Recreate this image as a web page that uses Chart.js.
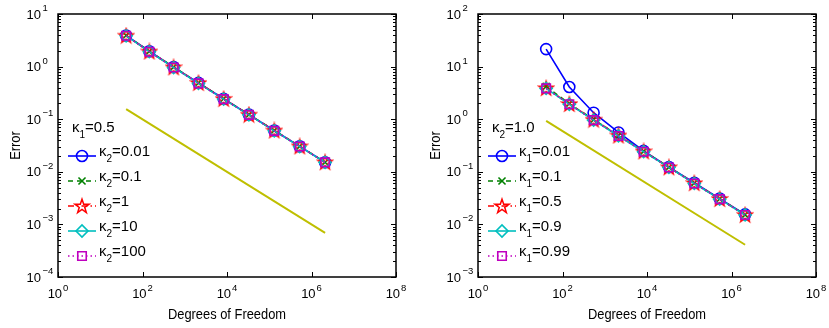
<!DOCTYPE html>
<html>
<head>
<meta charset="utf-8">
<script src="https://cdn.jsdelivr.net/npm/chart.js@4"></script>
<style>
  body { margin: 0; background: #fff; }
  .panel { position: absolute; top: 0; height: 328px; }
</style>
</head>
<body>
<div class="panel" style="left:0;width:414px"><canvas id="leftChart"></canvas></div>
<div class="panel" style="left:414px;width:415px"><canvas id="rightChart"></canvas></div>
<script>
// degrees of freedom (shared by every series)
const dof = [41, 145, 545, 2113, 8321, 33025, 131585, 525313, 2099201];

// left panel: kappa_1 = 0.5, kappa_2 varies
const leftK2_001 = [3.90, 1.96, 0.98, 0.49, 0.245, 0.122, 0.061, 0.0305, 0.0152];
const leftK2_01  = [3.90, 1.95, 0.98, 0.49, 0.245, 0.122, 0.061, 0.0305, 0.0152];
const leftK2_1   = [3.88, 1.94, 0.97, 0.49, 0.244, 0.122, 0.061, 0.0305, 0.0152];
const leftK2_10  = [3.85, 1.92, 0.96, 0.48, 0.241, 0.121, 0.060, 0.0302, 0.0151];
const leftK2_100 = [3.85, 1.92, 0.96, 0.48, 0.241, 0.121, 0.060, 0.0302, 0.0151];
const leftRef = [0.156, 0.00069];   // reference slope line at first / last dof

// right panel: kappa_2 = 1.0, kappa_1 varies
const rightK1_001 = [21.5, 4.1, 1.33, 0.56, 0.25, 0.123, 0.062, 0.031, 0.0155];
const rightK1_01  = [4.2, 1.97, 0.98, 0.49, 0.245, 0.122, 0.061, 0.0305, 0.0152];
const rightK1_05  = [3.9, 1.95, 0.98, 0.49, 0.245, 0.122, 0.061, 0.0305, 0.0152];
const rightK1_09  = [3.85, 1.92, 0.96, 0.48, 0.241, 0.121, 0.060, 0.0302, 0.0151];
const rightK1_099 = [3.85, 1.92, 0.96, 0.48, 0.241, 0.121, 0.060, 0.0302, 0.0151];
const rightRef = [0.93, 0.0041];

// legend text
const leftLegendValues = ['0.01', '0.1', '1', '10', '100'];
const rightLegendValues = ['0.01', '0.1', '0.5', '0.9', '0.99'];

// axis ticks (exponents of 10)
const xTickExp = [0, 2, 4, 6, 8];
const leftYTickExp = [-4, -3, -2, -1, 0, 1];
const rightYTickExp = [-3, -2, -1, 0, 1, 2];

const FONT = '"Liberation Sans", Arial, Helvetica, sans-serif';

// MATLAB-like pentagram marker
function pentagram(color) {
  const c = document.createElement('canvas');
  c.width = 18; c.height = 18;
  const g = c.getContext('2d');
  g.strokeStyle = color;
  g.lineWidth = 1.5;
  g.beginPath();
  for (let i = 0; i < 10; i++) {
    const r = i % 2 ? 2.9 : 7.4;
    const t = -Math.PI / 2 + i * Math.PI / 5;
    const x = 9 + r * Math.cos(t), y = 9.6 + r * Math.sin(t);
    if (i) g.lineTo(x, y); else g.moveTo(x, y);
  }
  g.closePath();
  g.stroke();
  return c;
}

// series styles
const styles = [
  { color: '#0000ff', dash: [], point: 'circle', radius: 5.5 },
  { color: '#008000', dash: [5, 4], point: 'crossRot', radius: 5 },
  { color: '#ff0000', dash: [6, 3, 1.5, 3], point: pentagram('#ff0000'), radius: 7 },
  { color: '#00bfbf', dash: [], point: 'rectRot', radius: 6 },
  { color: '#bf00bf', dash: [1.5, 3], point: 'rect', radius: 6 }
];

function makeDatasets(series, ref) {
  const sets = series.map((vals, i) => ({
    data: vals.map((v, j) => ({ x: dof[j], y: v })),
    borderColor: styles[i].color,
    borderWidth: 1.6,
    borderDash: styles[i].dash,
    pointStyle: styles[i].point,
    pointRadius: styles[i].radius,
    pointBorderColor: styles[i].color,
    pointBackgroundColor: 'rgba(0,0,0,0)',
    pointBorderWidth: 1.6,
    order: 5 - i
  }));
  sets.push({
    data: [{ x: dof[0], y: ref[0] }, { x: dof[dof.length - 1], y: ref[1] }],
    borderColor: '#bfbf00',
    borderWidth: 2,
    pointRadius: 0,
    order: 6
  });
  return sets;
}

function drawSub(ctx, x, y, base, sub, rest) {
  ctx.textAlign = 'left';
  ctx.textBaseline = 'alphabetic';
  ctx.font = '15px ' + FONT;
  ctx.fillText(base, x, y);
  x += ctx.measureText(base).width;
  ctx.font = '10px ' + FONT;
  ctx.fillText(sub, x, y + 5.5);
  x += ctx.measureText(sub).width;
  ctx.font = '15px ' + FONT;
  ctx.fillText(rest, x, y);
}

function panelPlugin(cfg) {
  return {
    id: 'panelDecor',
    afterDraw(chart) {
      const ctx = chart.ctx, a = chart.chartArea;
      const xs = chart.scales.x, ys = chart.scales.y;
      ctx.save();
      ctx.strokeStyle = '#000';
      ctx.fillStyle = '#000';

      // ticks (inward)
      ctx.lineWidth = 1;
      ctx.beginPath();
      xTickExp.forEach(e => {
        const px = Math.round(xs.getPixelForValue(Math.pow(10, e))) + 0.5;
        ctx.moveTo(px, a.bottom); ctx.lineTo(px, a.bottom - 5);
        ctx.moveTo(px, a.top); ctx.lineTo(px, a.top + 5);
      });
      const ye = cfg.yExp;
      for (let k = 0; k < ye.length; k++) {
        const dec = Math.pow(10, ye[k]);
        const py = Math.round(ys.getPixelForValue(dec)) + 0.5;
        ctx.moveTo(a.left, py); ctx.lineTo(a.left + 5, py);
        ctx.moveTo(a.right, py); ctx.lineTo(a.right - 5, py);
        if (k < ye.length - 1) {
          for (let m = 2; m <= 9; m++) {
            const pm = Math.round(ys.getPixelForValue(m * dec)) + 0.5;
            ctx.moveTo(a.left, pm); ctx.lineTo(a.left + 3, pm);
            ctx.moveTo(a.right, pm); ctx.lineTo(a.right - 3, pm);
          }
        }
      }
      ctx.stroke();

      // box
      ctx.lineWidth = 1.5;
      ctx.strokeRect(a.left, a.top, a.right - a.left, a.bottom - a.top);

      // x tick labels
      ctx.textBaseline = 'alphabetic';
      xTickExp.forEach(e => {
        const px = xs.getPixelForValue(Math.pow(10, e));
        ctx.font = '13px ' + FONT;
        const w1 = ctx.measureText('10').width;
        ctx.font = '9.5px ' + FONT;
        const w2 = ctx.measureText(String(e)).width;
        const x0 = px - (w1 + w2 + 1) / 2;
        ctx.textAlign = 'left';
        ctx.font = '13px ' + FONT;
        ctx.fillText('10', x0, a.bottom + 21);
        ctx.font = '9.5px ' + FONT;
        ctx.fillText(String(e), x0 + w1 + 1, a.bottom + 14);
      });

      // y tick labels
      ye.forEach(e => {
        const py = ys.getPixelForValue(Math.pow(10, e));
        ctx.textAlign = 'right';
        ctx.font = '13px ' + FONT;
        ctx.fillText('10', a.left - 17, py + 4.5);
        ctx.textAlign = 'left';
        ctx.font = '9.5px ' + FONT;
        ctx.fillText(e < 0 ? '\u2212' + (-e) : String(e), a.left - 15.5, py - 3);
      });

      // axis titles (slightly condensed, like the original)
      ctx.font = '14px ' + FONT;
      ctx.textAlign = 'center';
      ctx.save();
      ctx.translate((a.left + a.right) / 2, 319);
      ctx.scale(0.92, 1);
      ctx.fillText('Degrees of Freedom', 0, 0);
      ctx.restore();
      ctx.save();
      ctx.translate(a.left - 38, (a.top + a.bottom) / 2);
      ctx.rotate(-Math.PI / 2);
      ctx.scale(0.92, 1);
      ctx.fillText('Error', 0, 0);
      ctx.restore();

      // legend
      drawSub(ctx, a.left + 14, a.top + 118, '\u03ba', cfg.titleSub, '=' + cfg.titleValue);
      cfg.values.forEach((v, i) => {
        const st = styles[i];
        const ly = a.top + 142 + 25 * i;
        ctx.save();
        ctx.strokeStyle = st.color;
        ctx.lineWidth = 1.6;
        ctx.setLineDash(st.dash);
        ctx.beginPath();
        ctx.moveTo(a.left + 10, ly);
        ctx.lineTo(a.left + 38, ly);
        ctx.stroke();
        ctx.setLineDash([]);
        ctx.fillStyle = 'rgba(0,0,0,0)';
        Chart.helpers.drawPoint(ctx, { pointStyle: st.point, radius: st.radius, rotation: 0, borderWidth: 1.6 }, a.left + 24, ly);
        ctx.restore();
        ctx.fillStyle = '#000';
        drawSub(ctx, a.left + 41, ly, '\u03ba', cfg.entrySub, '=' + v);
      });
      ctx.restore();
    }
  };
}

function makeChart(id, series, ref, yMin, yMax, yWidth, padRight, cfg) {
  return new Chart(document.getElementById(id), {
    type: 'line',
    data: { datasets: makeDatasets(series, ref) },
    options: {
      responsive: true,
      maintainAspectRatio: false,
      animation: false,
      events: [],
      layout: { padding: { top: 14, right: padRight, left: 0, bottom: 0 } },
      plugins: { legend: { display: false }, tooltip: { enabled: false } },
      scales: {
        x: {
          type: 'logarithmic', min: 1, max: 1e8,
          ticks: { display: false }, grid: { display: false }, border: { display: false },
          afterFit: s => { s.height = 51; }
        },
        y: {
          type: 'logarithmic', min: yMin, max: yMax,
          ticks: { display: false }, grid: { display: false }, border: { display: false },
          afterFit: s => { s.width = yWidth; }
        }
      }
    },
    plugins: [panelPlugin(cfg)]
  });
}

makeChart('leftChart',
  [leftK2_001, leftK2_01, leftK2_1, leftK2_10, leftK2_100], leftRef,
  1e-4, 10, 58, 18,
  { yExp: leftYTickExp, titleSub: '1', titleValue: '0.5', entrySub: '2', values: leftLegendValues });

makeChart('rightChart',
  [rightK1_001, rightK1_01, rightK1_05, rightK1_09, rightK1_099], rightRef,
  1e-3, 100, 64, 13,
  { yExp: rightYTickExp, titleSub: '2', titleValue: '1.0', entrySub: '1', values: rightLegendValues });
</script>
</body>
</html>
